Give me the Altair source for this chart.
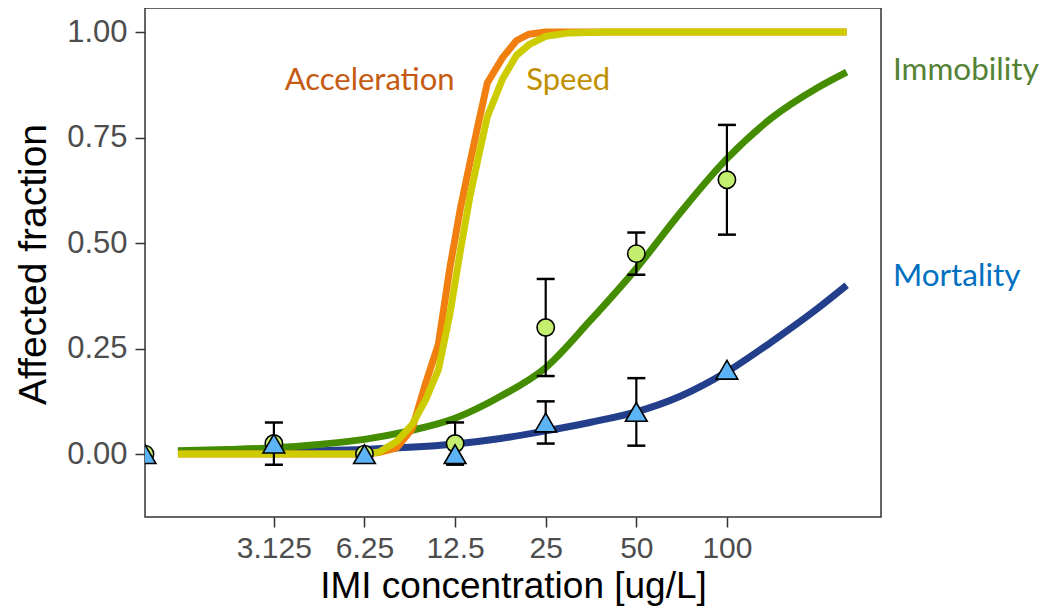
import altair as alt
import pandas as pd

# ---------------- data ----------------
# dose-response curves for the behavioural endpoints
fast_conc = [1.5, 3.125, 6.25, 7, 8, 9, 10, 11, 12, 13, 14, 15, 16, 18, 20, 22, 25, 30, 40, 250]
accel_val = [0, 0, 0, 0.004, 0.015, 0.06, 0.17, 0.26, 0.44, 0.58, 0.69, 0.79, 0.88, 0.94, 0.98, 0.995, 1.0, 1.0, 1.0, 1.0]
speed_val = [0, 0, 0, 0.005, 0.03, 0.07, 0.13, 0.20, 0.33, 0.48, 0.61, 0.71, 0.80, 0.89, 0.945, 0.97, 0.99, 0.998, 1.0, 1.0]

# fitted curves for immobility and mortality
fit_conc = [1.5, 2.2, 3.125, 4.4, 6.25, 8.8, 12.5, 17.7, 25, 35, 50, 70, 100, 140, 200, 250]
immob_fit = [0.008, 0.011, 0.015, 0.023, 0.035, 0.055, 0.085, 0.137, 0.205, 0.315, 0.44, 0.572, 0.70, 0.795, 0.868, 0.905]
mort_fit = [0.004, 0.005, 0.006, 0.008, 0.011, 0.016, 0.024, 0.037, 0.055, 0.075, 0.10, 0.137, 0.195, 0.265, 0.345, 0.40]

# observed points (control drawn at the left edge of the log axis)
CONTROL = 1.166
immob_conc = [CONTROL, 3.125, 6.25, 12.5, 25, 50, 100]
immob_obs = [0.0, 0.025, 0.0, 0.025, 0.30, 0.475, 0.65]
mort_conc = [CONTROL, 3.125, 6.25, 12.5, 25, 50, 100]
mort_obs = [0.0, 0.025, 0.0, 0.0, 0.075, 0.10, 0.20]

# error bars
immob_err_conc = [12.5, 25, 50, 100]
immob_lo = [-0.025, 0.185, 0.425, 0.52]
immob_hi = [0.075, 0.415, 0.525, 0.78]
mort_err_conc = [3.125, 25, 50]
mort_lo = [-0.025, 0.025, 0.02]
mort_hi = [0.075, 0.125, 0.18]

# axis ticks
x_ticks = [3.125, 6.25, 12.5, 25, 50, 100]
y_ticks = [0, 0.25, 0.5, 0.75, 1.0]

# curve labels
label_text = ["Acceleration", "Speed", "Immobility", "Mortality"]
label_conc = [6.5, 29.7, 356, 356]
label_val = [0.884, 0.884, 0.908, 0.419]

# ---------------- styling ----------------
X_DOMAIN = [CONTROL, 325]
Y_DOMAIN = [-0.149, 1.057]
C_ACC, C_SPD, C_IMM, C_MOR = "#f07f0f", "#cccc00", "#448c00", "#233e8b"
label_colors = ["#c55a11", "#bf9000", "#548235", "#0070c0"]
AX_FONT = "Liberation Sans"

xs = alt.Scale(type="log", domain=X_DOMAIN, nice=False)
ys = alt.Scale(domain=Y_DOMAIN, nice=False, zero=False)

x_axis = alt.Axis(values=x_ticks, format="~g", title="IMI concentration [ug/L]",
                  labelFontSize=30, labelColor="#4d4d4d", labelFont=AX_FONT,
                  tickSize=10, tickWidth=1.5, tickColor="#333333", labelPadding=6,
                  domain=False, grid=False, titleFont=AX_FONT, titleFontSize=37,
                  titleFontWeight="normal", titleColor="black",
                  titleY=80, titleBaseline="alphabetic")
y_axis = alt.Axis(values=y_ticks, format=".2f", title="Affected fraction",
                  labelFontSize=31, labelColor="#4d4d4d", labelFont=AX_FONT,
                  tickSize=10, tickWidth=1.5, tickColor="#333333", labelPadding=8,
                  domain=False, grid=False, titleFont=AX_FONT, titleFontSize=39,
                  titleFontWeight="normal", titleColor="black",
                  titleX=-112, titleY=256, titleAngle=-90, titleAlign="center",
                  titleBaseline="middle")


def curve(conc, vals, color, interp="linear"):
    df = pd.DataFrame({"conc": conc, "val": vals})
    return alt.Chart(df).mark_line(color=color, strokeWidth=7, strokeCap="butt",
                                   strokeJoin="round", interpolate=interp).encode(
        x=alt.X("conc:Q", scale=xs, axis=x_axis),
        y=alt.Y("val:Q", scale=ys, axis=y_axis),
    )


def errbars(conc, lo, hi):
    df = pd.DataFrame({"conc": conc, "lo": lo, "hi": hi})
    base = alt.Chart(df)
    rule = base.mark_rule(color="black", strokeWidth=2.2).encode(
        x=alt.X("conc:Q", scale=xs), y=alt.Y("lo:Q", scale=ys), y2="hi:Q")
    cap_lo = base.mark_tick(orient="horizontal", color="black", size=18, thickness=2.5,
                            opacity=1).encode(x=alt.X("conc:Q", scale=xs), y=alt.Y("lo:Q", scale=ys))
    cap_hi = base.mark_tick(orient="horizontal", color="black", size=18, thickness=2.5,
                            opacity=1).encode(x=alt.X("conc:Q", scale=xs), y=alt.Y("hi:Q", scale=ys))
    return rule + cap_lo + cap_hi


def points(conc, vals, shape, fill, size):
    df = pd.DataFrame({"conc": conc, "val": vals})
    return alt.Chart(df).mark_point(shape=shape, filled=True, fill=fill, stroke="black",
                                    strokeWidth=1.6, size=size, opacity=1, clip=True).encode(
        x=alt.X("conc:Q", scale=xs), y=alt.Y("val:Q", scale=ys))


labels_df = pd.DataFrame({"label": label_text, "conc": label_conc, "val": label_val})
label_color = alt.Color("label:N", scale=alt.Scale(domain=label_text, range=label_colors), legend=None)
labels_center = alt.Chart(labels_df.iloc[:2]).mark_text(
    font="Lato", fontSize=31, baseline="middle", align="center").encode(
    x=alt.X("conc:Q", scale=xs), y=alt.Y("val:Q", scale=ys), text="label:N", color=label_color)
labels_side = alt.Chart(labels_df.iloc[2:]).mark_text(
    font="Lato", fontSize=31.5, baseline="middle", align="left", clip=False).encode(
    x=alt.X("conc:Q", scale=xs), y=alt.Y("val:Q", scale=ys), text="label:N", color=label_color)

chart = alt.layer(
    curve(fit_conc, mort_fit, C_MOR, "monotone"),
    curve(fit_conc, immob_fit, C_IMM, "monotone"),
    curve(fast_conc, accel_val, C_ACC),
    curve(fast_conc, speed_val, C_SPD),
    errbars(immob_err_conc, immob_lo, immob_hi),
    errbars(mort_err_conc, mort_lo, mort_hi),
    points(immob_conc, immob_obs, "circle", "#c3ee6e", 300),
    points(mort_conc, mort_obs, "triangle-up", "#5cb3f6", 470),
    labels_center,
    labels_side,
).properties(
    width=736, height=509,
    background="white",
    autosize=alt.AutoSizeParams(type="none"),
    padding={"left": 137, "top": 0, "right": 163, "bottom": 89},
).configure(
    font=AX_FONT,
    view=alt.ViewConfig(stroke="#333333", strokeWidth=1.5),
)

chart.save("out.html", embed_options={"renderer": "svg", "actions": False})
